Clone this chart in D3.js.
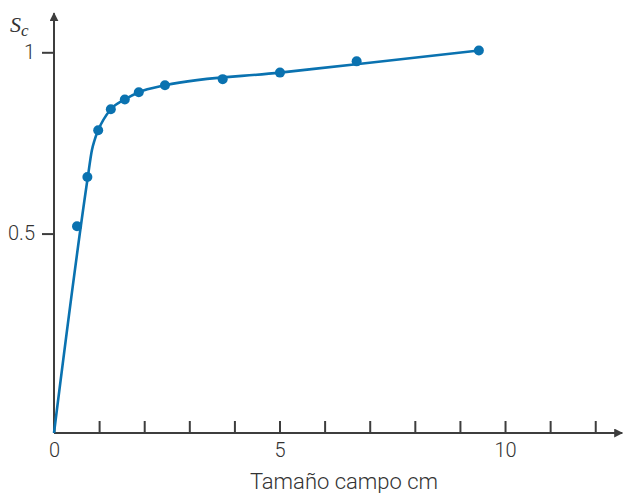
<!DOCTYPE html>
<html><head><meta charset="utf-8">
<script src="https://cdn.jsdelivr.net/npm/d3@7"></script>
<style>
html,body{margin:0;padding:0;background:#fff;}
svg{display:block;}
</style></head>
<body>
<script>
// measured points (field size cm, Sc)
const sizes = [0.51, 0.74, 0.98, 1.26, 1.57, 1.88, 2.46, 3.74, 5.01, 6.71, 9.42];
const scValues = [0.520, 0.656, 0.785, 0.843, 0.870, 0.890, 0.909, 0.926, 0.944, 0.975, 1.005];
// fitted curve
const curveX = [0, 0.75, 0.84, 0.90, 0.98, 1.26, 1.57, 1.88, 2.46, 5.01, 6.70, 9.42];
const curveY = [-0.05, 0.656, 0.730, 0.758, 0.785, 0.843, 0.870, 0.890, 0.909, 0.944, 0.967, 1.005];
const xTicks = [0,1,2,3,4,5,6,7,8,9,10,11,12];
const xLabels = [0,5,10];
const yTicks = [0.5, 1];
const xTitle = "Tamaño campo cm";

const W = 624, H = 493;
const x = d3.scaleLinear().domain([0, 12.6]).range([54, 622.3]);
const y = d3.scaleLinear().domain([-0.05, 1]).range([433, 52.3]);
const axisColor = "#3d3d3d", textColor = "#333", blue = "#0a72b0";
const font = "Roboto, 'Open Sans', sans-serif";

const svg = d3.select("body").append("svg").attr("width", W).attr("height", H);
const defs = svg.append("defs");
defs.append("marker").attr("id","arr").attr("viewBox","0 0 10 10").attr("refX",9).attr("refY",5)
  .attr("markerWidth",9).attr("markerHeight",9).attr("markerUnits","userSpaceOnUse").attr("orient","auto")
  .append("path").attr("d","M0,0 L10,5 L0,10 Z").attr("fill",axisColor);

// x axis ticks
const xAxis = d3.axisBottom(x).tickValues(xTicks).tickSize(-12).tickPadding(10)
  .tickFormat(d => xLabels.includes(d) ? d : "");
const gx = svg.append("g").attr("transform", `translate(0,${y(-0.05)})`).call(xAxis);
gx.select(".domain").remove();
gx.selectAll(".tick line").attr("stroke", axisColor).attr("stroke-width", 2);
gx.selectAll("text").attr("fill", textColor).style("font-family", font)
  .style("font-weight", 300).style("font-size","20px");

// y axis ticks
const yAxis = d3.axisLeft(y).tickValues(yTicks).tickSize(12).tickPadding(7)
  .tickFormat(d => d === 1 ? "1" : d3.format(".1f")(d));
const gy = svg.append("g").attr("transform", `translate(${x(0)},0)`).call(yAxis);
gy.select(".domain").remove();
gy.selectAll(".tick line").attr("stroke", axisColor).attr("stroke-width", 2);
gy.selectAll("text").attr("fill", textColor).style("font-family", font)
  .style("font-weight", 300).style("font-size","20px");

// axis lines with arrows
svg.append("line").attr("x1", x(0)).attr("y1", y(-0.05)).attr("x2", x(12.6)).attr("y2", y(-0.05))
  .attr("stroke", axisColor).attr("stroke-width", 2).attr("marker-end","url(#arr)");
svg.append("line").attr("x1", x(0)).attr("y1", y(-0.05)).attr("x2", x(0)).attr("y2", y(1.108))
  .attr("stroke", axisColor).attr("stroke-width", 2).attr("marker-end","url(#arr)");

// curve
const line = d3.line().x(d => x(d[0])).y(d => y(d[1])).curve(d3.curveMonotoneX);
svg.append("path").datum(curveX.map((v,i) => [v, curveY[i]]))
  .attr("d", line).attr("fill","none").attr("stroke", blue).attr("stroke-width", 2.6);

// points
svg.append("g").selectAll("circle").data(sizes.map((v,i)=>[v, scValues[i]])).join("circle")
  .attr("cx", d => x(d[0])).attr("cy", d => y(d[1])).attr("r", 5).attr("fill", blue);

// titles
svg.append("text").attr("x", 344).attr("y", 489).attr("text-anchor","middle")
  .attr("fill", textColor).style("font-family", font)
  .style("font-weight",300).style("font-size","22px").text(xTitle);
const sc = svg.append("text").attr("x", 10).attr("y", 32).attr("fill", textColor)
  .style("font-family","'Liberation Serif', 'DejaVu Serif', serif").style("font-style","italic").style("font-size","22px");
sc.append("tspan").text("S");
sc.append("tspan").attr("dy", 4).style("font-size","17px").text("c");
</script>
</body></html>
